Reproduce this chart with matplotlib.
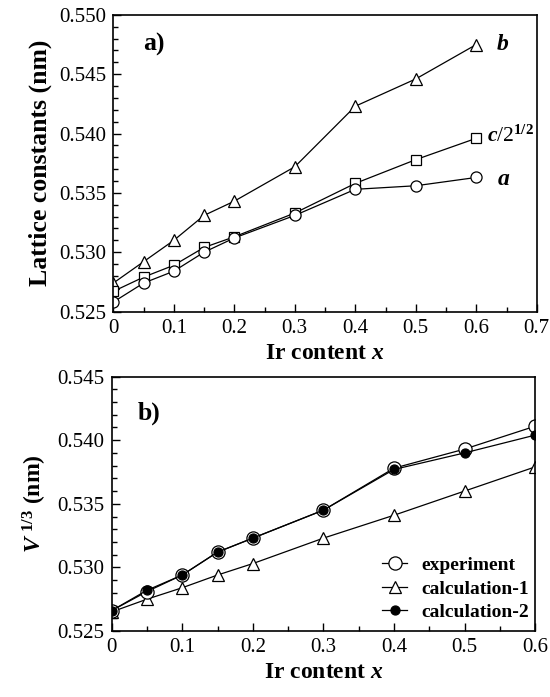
import matplotlib
matplotlib.use("Agg")
import matplotlib.pyplot as plt
from matplotlib.ticker import MultipleLocator, FormatStrFormatter

plt.rcParams['font.family'] = ['Liberation Serif', 'DejaVu Serif']
plt.rcParams['mathtext.fontset'] = 'custom'
plt.rcParams['mathtext.it'] = 'Liberation Serif:italic:bold'
plt.rcParams['mathtext.rm'] = 'Liberation Serif:bold'
plt.rcParams['mathtext.bf'] = 'Liberation Serif:bold'

# Panel a: lattice constants vs Ir content
x_a = [0, 0.05, 0.1, 0.15, 0.2, 0.3, 0.4, 0.5, 0.6]
lat_b = [0.5274, 0.5292, 0.5310, 0.5331, 0.5343, 0.5372, 0.5423, 0.5446, 0.5475]
lat_c = [0.5267, 0.5279, 0.5289, 0.5304, 0.5313, 0.5333, 0.5358, 0.5378, 0.5396]
lat_a = [0.5258, 0.5274, 0.5284, 0.5300, 0.5312, 0.5331, 0.5353, 0.5356, 0.5363]

# Panel b: cube root of the cell volume
x_b = [0, 0.05, 0.1, 0.15, 0.2, 0.3, 0.4, 0.5, 0.6]
v_exp = [0.5266, 0.5281, 0.5294, 0.5312, 0.5323, 0.5345, 0.5378, 0.5393, 0.5411]
v_calc1 = [0.5265, 0.5275, 0.5284, 0.5294, 0.5303, 0.5323, 0.5341, 0.5360, 0.5379]
v_calc2 = [0.5266, 0.5282, 0.5294, 0.5312, 0.5323, 0.5345, 0.5377, 0.5390, 0.5404]

fig = plt.figure(figsize=(5.5, 6.97), dpi=100)
ax1 = fig.add_axes([0.206, 0.553, 0.770, 0.4257])
ax2 = fig.add_axes([0.203, 0.0947, 0.770, 0.365])

lw = 0.9
ms = 8
ax1.plot(x_a, lat_b, '-', color='black', lw=lw, marker='^', ms=ms, mfc='white', mec='black', mew=0.9)
ax1.plot(x_a, lat_c, '-', color='black', lw=lw, marker='s', ms=ms - 0.5, mfc='white', mec='black', mew=0.9)
ax1.plot(x_a, lat_a, '-', color='black', lw=lw, marker='o', ms=ms, mfc='white', mec='black', mew=0.9)

ax1.text(0.632, lat_b[-1], r'$b$', fontsize=17, va='center', ha='left')
ax1.text(0.617, lat_c[-1] + 0.0002, r'$c$/2$^{1/2}$', fontsize=15.5, va='center', ha='left')
ax1.text(0.634, lat_a[-1] - 0.0002, r'$a$', fontsize=17, va='center', ha='left')
ax1.text(0.049, 0.5475, 'a)', fontsize=18.5, fontweight='bold', va='center', ha='left')

ax1.set_xlim(0, 0.7)
ax1.set_ylim(0.525, 0.550)
ax1.xaxis.set_major_locator(MultipleLocator(0.1))
ax1.xaxis.set_minor_locator(MultipleLocator(0.05))
ax1.yaxis.set_major_locator(MultipleLocator(0.005))
ax1.yaxis.set_minor_locator(MultipleLocator(0.001))
ax1.yaxis.set_major_formatter(FormatStrFormatter('%.3f'))
ax1.xaxis.set_major_formatter(FormatStrFormatter('%g'))
ax1.set_xlabel(r'Ir content $x$', fontsize=17, fontweight='bold', labelpad=4)
ax1.set_ylabel('Lattice constants (nm)', fontsize=18.5, fontweight='bold', labelpad=5)

ax2.plot(x_b, v_calc1, '-', color='black', lw=lw, marker='^', ms=ms, mfc='white', mec='black', mew=0.9,
         label='calculation-1')
ax2.plot(x_b, v_exp, '-', color='black', lw=lw, marker='o', ms=9.5, mfc='white', mec='black', mew=0.9,
         label='experiment')
ax2.plot(x_b, v_calc2, '-', color='black', lw=lw, marker='o', ms=6.5, mfc='black', mec='black', mew=0.9,
         label='calculation-2')
ax2.text(0.037, 0.5421, 'b)', fontsize=18.5, fontweight='bold', va='center', ha='left')

ax2.set_xlim(0, 0.6)
ax2.set_ylim(0.525, 0.545)
ax2.xaxis.set_major_locator(MultipleLocator(0.1))
ax2.xaxis.set_minor_locator(MultipleLocator(0.05))
ax2.yaxis.set_major_locator(MultipleLocator(0.005))
ax2.yaxis.set_minor_locator(MultipleLocator(0.001))
ax2.yaxis.set_major_formatter(FormatStrFormatter('%.3f'))
ax2.xaxis.set_major_formatter(FormatStrFormatter('%g'))
ax2.set_xlabel(r'Ir content $x$', fontsize=17, fontweight='bold', labelpad=4)
ax2.set_ylabel(r'$V^{\ 1/3}$ (nm)', fontsize=17, fontweight='bold', labelpad=6)

handles, labels = ax2.get_legend_handles_labels()
order = [1, 0, 2]
leg = ax2.legend([handles[i] for i in order], [labels[i] for i in order], loc='lower right',
                 bbox_to_anchor=(1.026, -0.03), frameon=False, handlelength=1.3, handletextpad=0.7,
                 labelspacing=0.3, prop={'family': 'Liberation Serif', 'weight': 'bold', 'size': 14})

for ax in (ax1, ax2):
    for s in ax.spines.values():
        s.set_linewidth(1.2)
    ax.tick_params(which='both', direction='in', top=False, right=False, labelsize=15, width=1.0)
    ax.tick_params(which='major', length=6, pad=5)
    ax.tick_params(which='minor', length=3.5)

fig.savefig('out.png', dpi=100)
